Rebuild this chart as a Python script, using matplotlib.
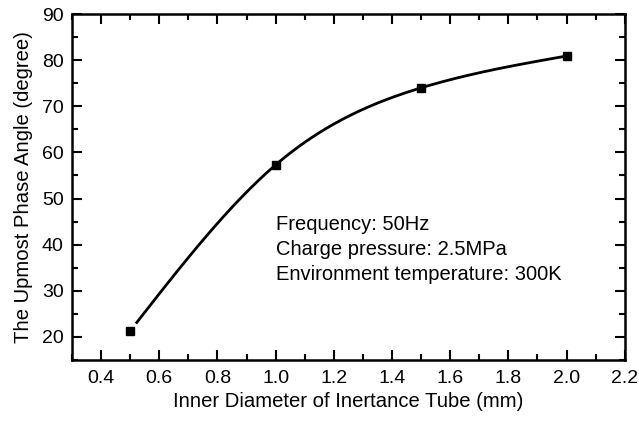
import matplotlib
matplotlib.use("Agg")
import matplotlib.pyplot as plt
import numpy as np
from matplotlib.ticker import MultipleLocator

plt.rcParams['font.family'] = ['Liberation Sans', 'DejaVu Sans']
plt.rcParams['font.size'] = 14

# data
diameter = np.array([0.5, 1.0, 1.5, 2.0])
phase = np.array([21.3, 57.3, 74.0, 80.9])
notes = ["Frequency: 50Hz", "Charge pressure: 2.5MPa", "Environment temperature: 300K"]


def natural_spline(x, y, n=200):
    # natural cubic spline through the measured points (for the smooth line only)
    k = len(x) - 1
    h = np.diff(x)
    A = np.zeros((k + 1, k + 1))
    b = np.zeros(k + 1)
    A[0, 0] = A[k, k] = 1
    for i in range(1, k):
        A[i, i - 1] = h[i - 1]
        A[i, i] = 2 * (h[i - 1] + h[i])
        A[i, i + 1] = h[i]
        b[i] = 6 * ((y[i + 1] - y[i]) / h[i] - (y[i] - y[i - 1]) / h[i - 1])
    M = np.linalg.solve(A, b)
    xs = np.linspace(x[0], x[-1], n)
    ys = np.empty_like(xs)
    for j, t in enumerate(xs):
        i = min(np.searchsorted(x, t, side='right') - 1, k - 1)
        a, c = x[i], x[i + 1]
        ys[j] = (M[i] * (c - t) ** 3 / (6 * h[i]) + M[i + 1] * (t - a) ** 3 / (6 * h[i])
                 + (y[i] / h[i] - M[i] * h[i] / 6) * (c - t)
                 + (y[i + 1] / h[i] - M[i + 1] * h[i] / 6) * (t - a))
    return xs, ys


fig = plt.figure(figsize=(6.39, 4.25), dpi=100)
ax = fig.add_axes([0.1127, 0.153, 0.865, 0.814])

xs, ys = natural_spline(diameter, phase)
keep = xs > diameter[0] + 0.02
ax.plot(xs[keep], ys[keep], color='black', lw=2)
ax.plot(diameter, phase, 's', color='black', ms=5.5)

ax.set_xlim(0.3, 2.2)
ax.set_ylim(15, 90)
ax.xaxis.set_minor_locator(MultipleLocator(0.1))
ax.yaxis.set_minor_locator(MultipleLocator(5))
xt = np.arange(0.4, 2.21, 0.2)
ax.set_xticks(xt)
ax.set_xticklabels([f"{v:.1f}" for v in xt])
ax.set_yticks(np.arange(20, 91, 10))

ax.tick_params(which='both', direction='in', top=True, right=True, width=1.5)
ax.tick_params(which='major', length=7)
ax.tick_params(which='minor', length=4)
ax.tick_params(axis='x', pad=7)
ax.tick_params(axis='y', pad=6)
for s in ax.spines.values():
    s.set_linewidth(1.8)

ax.set_xlabel("Inner Diameter of Inertance Tube (mm)", fontsize=14.6, labelpad=4)
ax.set_ylabel("The Upmost Phase Angle (degree)", fontsize=14.6, labelpad=6)

ax.text(1.0, 46.5, "\n".join(notes), va='top', ha='left', fontsize=14.5, linespacing=1.4)

fig.savefig("out.png", dpi=100)
